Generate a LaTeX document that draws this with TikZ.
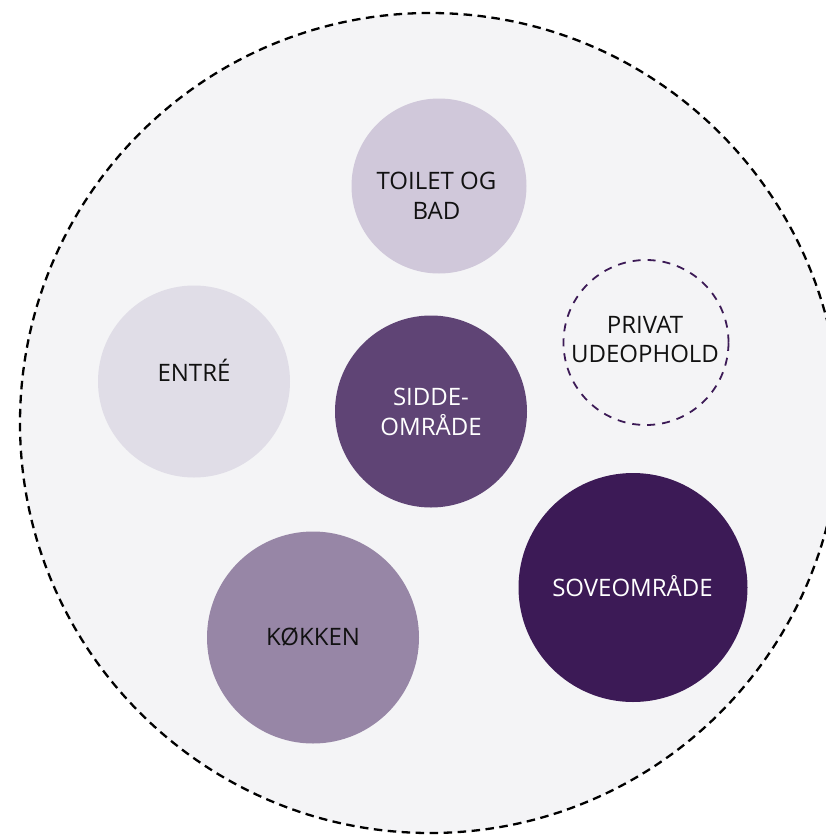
\documentclass[tikz,border=0pt]{standalone}
\usepackage{fontspec}
\setmainfont{Open Sans}
\usetikzlibrary{positioning}
\definecolor{planbg}{HTML}{F4F4F6}
\definecolor{toiletfill}{HTML}{D0C8DA}
\definecolor{entrefill}{HTML}{E0DDE7}
\definecolor{siddefill}{HTML}{5F4475}
\definecolor{sovefill}{HTML}{3C1A56}
\definecolor{kokkenfill}{HTML}{9786A6}
\definecolor{labelblack}{HTML}{111111}

\begin{document}
\begin{tikzpicture}[x=1pt, y=-1pt,
    room/.style={circle, draw=none, inner sep=0pt, outer sep=0pt},
    roomlabel/.style={anchor=base, align=center, inner sep=0pt,
      font=\fontsize{24}{29.5}\selectfont, text=labelblack},
    lightlabel/.style={roomlabel, text=white}]
    \useasboundingbox (0,0) rectangle (826,836);
    \clip (0,0) rectangle (826,836);

    % outer boundary of the dwelling
    \draw[fill=planbg, draw=black, line width=2.3pt, dash pattern=on 8.5pt off 5.5pt] (430,423) circle [radius=410pt];

    % TOILET OG BAD (top)
    \node[room, fill=toiletfill, minimum size=175pt] (toilet) at (439,186) {};
    \node[roomlabel] (toilet-text) at (436.5,219.3) {TOILET OG\\BAD};

    % ENTRE (left)
    \node[room, fill=entrefill, minimum size=192pt] (entre) at (194,381.5) {};
    \node[roomlabel] (entre-text) at (194,381.7) {ENTRÉ};

    % SIDDEOMRAADE (middle)
    \node[room, fill=siddefill, minimum size=192pt] (sidde) at (431,411.5) {};
    \node[lightlabel] (sidde-text) at (431,435) {SIDDE-\\OMRÅDE};

    % PRIVAT UDEOPHOLD (dashed, right)
    \node[room, draw=sovefill, line width=1.8pt, dash pattern=on 8pt off 7pt, minimum size=165pt] (udeophold) at (646,342.5) {};
    \node[roomlabel] (udeophold-text) at (645,362.7) {PRIVAT\\UDEOPHOLD};

    % SOVEOMRAADE (lower right, darkest)
    \node[room, fill=sovefill, minimum size=229pt] (sove) at (633,587.5) {};
    \node[lightlabel] (sove-text) at (632.5,596.7) {SOVEOMRÅDE};

    % KOEKKEN (lower left)
    \node[room, fill=kokkenfill, minimum size=212pt] (kokken) at (313,637.5) {};
    \node[roomlabel] (kokken-text) at (313,645.7) {KØKKEN};
\end{tikzpicture}
\end{document}
